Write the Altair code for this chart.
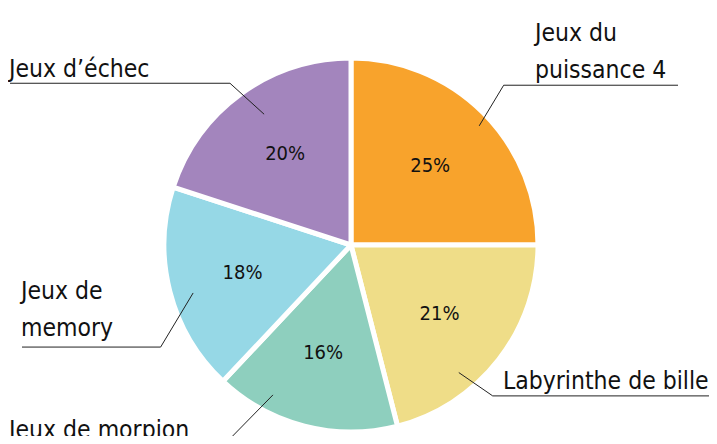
import math
import altair as alt
import pandas as pd

# ---------------- data ----------------
categories = ["Jeux du puissance 4", "Labyrinthe de bille", "Jeux de morpion",
              "Jeux de memory", "Jeux d’échec"]
display_labels = ["Jeux du\npuissance 4", "Labyrinthe de bille", "Jeux de morpion",
                  "Jeux de\nmemory", "Jeux d’échec"]
shares = [25, 21, 16, 18, 20]
colors = ["#F8A32C", "#EFDD88", "#8ECFBE", "#96D8E6", "#A385BD"]

# ---------------- layout / style ----------------
W, H = 701, 428
CX, CY = 343, 237          # pie centre (px, plot coords)
R = 187                    # outer radius
FONT = "DejaVu Sans Condensed, Liberation Sans, sans-serif"

# leader-line layout per slice: (start angle offset from bisector, start r,
#  elbow angle offset, elbow r, line end x, text x, text baseline y)
leader_layout = {
    "Jeux du puissance 4": (2.1, 175, -1.3, 221, 670, 527, 33),
    "Labyrinthe de bille": (12.0, 167, 9.0, 207, 705, 495, 381),
    "Jeux de morpion":     (13.1, 169, 18.2, 240, 2, 1, 430),
    "Jeux de memory":      (-2.5, 165, -13.8, 216, 14, 13, 291),
    "Jeux d’échec":        (2.4, 157, -0.8, 202, 2, 1, 69),
}

total = sum(shares)
df = pd.DataFrame({
    "cat": categories,
    "share": shares,
    "order": list(range(len(categories))),
    "pct": [f"{s}%" for s in shares],
})

# bisector angles derived from the data
cum = 0
mids = []
for s in shares:
    mids.append((cum + s / 2) / total * 360)
    cum += s


def polar(angle_deg, r):
    a = math.radians(angle_deg)
    return CX + r * math.sin(a), CY - r * math.cos(a)


line_rows = []
text_rows = []
for cat, lab, mid in zip(categories, display_labels, mids):
    sa, sr, ea, er, xend, tx, ty = leader_layout[cat]
    p0 = polar(mid + sa, sr)
    p1 = polar(mid + ea, er)
    p2 = (xend, p1[1])
    for k, p in enumerate([p0, p1, p2]):
        line_rows.append({"cat": cat, "k": k, "x": p[0], "y": p[1]})
    text_rows.append({"cat": cat, "label": lab, "x": tx, "y": ty})

lines_df = pd.DataFrame(line_rows)
texts_df = pd.DataFrame(text_rows)

color_scale = alt.Scale(domain=categories, range=colors)

base = alt.Chart(df).encode(
    theta=alt.Theta("share:Q", stack=True),
    order=alt.Order("order:Q"),
    x=alt.value(CX),
    y=alt.value(CY),
)

pie = base.mark_arc(outerRadius=R, stroke="white", strokeWidth=5).encode(
    color=alt.Color("cat:N", scale=color_scale, legend=None)
)

pct = base.mark_text(radius=112, font=FONT, fontSize=20, color="#111111").encode(
    text="pct:N"
)

leaders = alt.Chart(lines_df).mark_line(color="#222222", strokeWidth=1).encode(
    x=alt.X("x:Q", scale=None),
    y=alt.Y("y:Q", scale=None),
    detail="cat:N",
    order="k:Q",
)

outer = alt.Chart(texts_df).mark_text(
    font=FONT, fontSize=24.5, align="left", baseline="alphabetic",
    lineBreak="\n", lineHeight=37, color="#111111"
).encode(
    x=alt.X("x:Q", scale=None),
    y=alt.Y("y:Q", scale=None),
    text="label:N",
)

chart = alt.layer(pie, pct, leaders, outer).properties(
    width=W, height=H, padding=0,
    autosize=alt.AutoSizeParams(type="none"),
).configure_view(stroke=None)

chart.save("out.html", embed_options={"renderer": "svg", "actions": False})
